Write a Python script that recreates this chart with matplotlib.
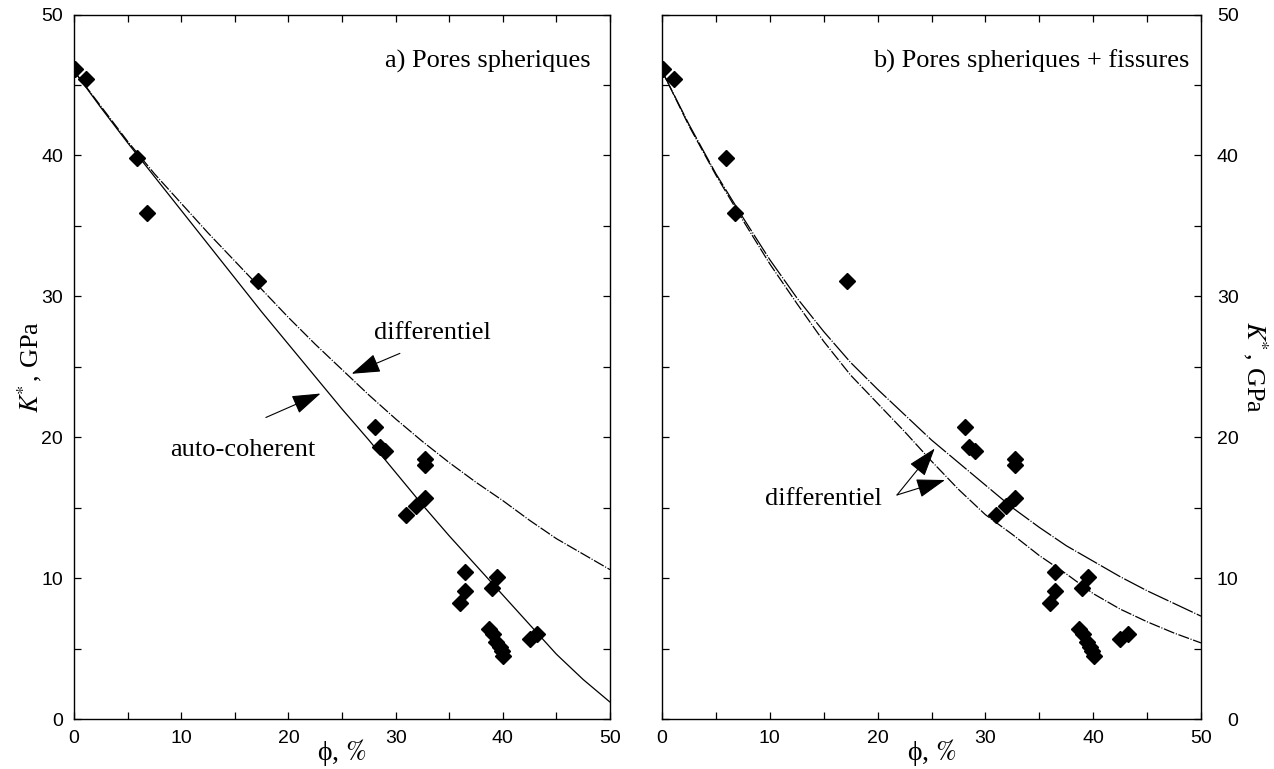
"""
Module de compressibilite K* en fonction de la porosite phi.

2 panneaux:
  gauche: pores spheriques (auto-coherent / differentiel)
  droite: pores spheriques + fissures (differentiel)
"""

import numpy as np
import matplotlib
matplotlib.use('Agg')
import matplotlib.pyplot as plt
from matplotlib.ticker import MultipleLocator

# --- donnees experimentales (phi en %, K* en GPa) ---
phi_exp = [0.1, 1.1, 5.9, 6.8, 17.2, 28.1, 28.5, 29.0, 32.7, 32.7,
           31.0, 31.9, 32.7, 36.5, 36.5, 36.0, 39.5, 39.0,
           38.7, 39.05, 39.4, 39.7, 39.9, 40.05, 42.5, 43.2]
K_exp = [46.1, 45.4, 39.8, 35.9, 31.1, 20.7, 19.3, 19.0, 18.45, 18.0,
         14.5, 15.1, 15.7, 10.45, 9.1, 8.2, 10.1, 9.3,
         6.4, 6.0, 5.5, 5.1, 4.8, 4.5, 5.7, 6.0]

# --- courbes modeles ---
phi_model = [0, 2.5, 5, 7.5, 10, 12.5, 15, 17.5, 20, 22.5, 25,
             27.5, 30, 32.5, 35, 37.5, 40, 42.5, 45, 47.5, 50]
K_autocoherent = [46.0, 43.4, 40.9, 38.5, 36.1, 33.7, 31.3, 28.9, 26.6, 24.3, 22.0,
                  19.8, 17.5, 15.2, 13.0, 10.9, 8.8, 6.7, 4.6, 2.8, 1.2]
K_diff_spheres = [46.0, 43.5, 41.0, 38.7, 36.6, 34.5, 32.5, 30.5, 28.5, 26.6, 24.8,
                  23.0, 21.3, 19.7, 18.2, 16.8, 15.5, 14.1, 12.8, 11.7, 10.6]
K_diff_fiss_haut = [46.0, 42.2, 38.7, 35.6, 32.6, 29.9, 27.5, 25.3, 23.4, 21.6, 19.8,
                    18.2, 16.6, 15.0, 13.6, 12.3, 11.2, 10.1, 9.1, 8.2, 7.3]
K_diff_fiss_bas = [46.0, 42.1, 38.6, 35.4, 32.3, 29.5, 26.8, 24.4, 22.4, 20.4, 18.3,
                   16.3, 14.5, 13.1, 11.6, 10.3, 8.9, 7.8, 6.9, 6.1, 5.4]

SERIF = ['Liberation Serif', 'DejaVu Serif']
SANS = ['Liberation Sans', 'DejaVu Sans']
TXT_SIZE = 19
DASHDOT = (9, 1.3, 0.9, 1.3)

plt.rcParams['font.family'] = SANS
plt.rcParams['mathtext.fontset'] = 'stix'

XLABEL = '\u03d5, $\\mathit{\\%}$'
YLABEL = r'$K^{\!\!*}$, GPa'


def _style_axes(ax, side):
    """cadre, graduations vers l'interieur tous les 5."""
    ax.set_xlim(0, 50)
    ax.set_ylim(0, 50)
    for ax_ in (ax.xaxis, ax.yaxis):
        ax_.set_major_locator(MultipleLocator(10))
        ax_.set_minor_locator(MultipleLocator(5))
    ax.tick_params(which='both', direction='in', top=True, right=True,
                   left=True, bottom=True, length=5, width=0.9, labelsize=14)
    ax.tick_params(axis='x', pad=8)
    for sp in ax.spines.values():
        sp.set_linewidth(1.0)

    ax.set_xlabel(XLABEL, family=SERIF, fontsize=TXT_SIZE + 1, va='center')
    ax.xaxis.set_label_coords(0.5, -0.048)
    if side == 'left':
        ax.tick_params(axis='y', labelleft=True, labelright=False, pad=8)
        ax.set_ylabel(YLABEL, family=SERIF, fontsize=TXT_SIZE,
                      rotation=90, va='center')
        ax.yaxis.set_label_coords(-0.082, 0.5)
    else:
        ax.tick_params(axis='y', labelleft=False, labelright=True, pad=27)
        for lab in ax.get_yticklabels():
            lab.set_horizontalalignment('right')
        ax.yaxis.set_label_position('right')
        ax.set_ylabel(YLABEL, family=SERIF, fontsize=TXT_SIZE,
                      rotation=270, va='center')
        ax.yaxis.set_label_coords(1.10, 0.5)


def _arrow(ax, tail, tip):
    ax.annotate('', xy=tip, xytext=tail,
                arrowprops=dict(arrowstyle='-|>,head_length=0.9,head_width=0.3',
                                color='black', lw=0.8, shrinkA=0, shrinkB=0,
                                mutation_scale=20))


def _points(ax):
    ax.plot(phi_exp, K_exp, ls='none', marker='D', ms=8,
            color='black', zorder=5)


fig = plt.figure(figsize=(12.74, 7.69), dpi=100)
ax_a = fig.add_axes([74 / 1274, 50 / 769, 536 / 1274, 704.5 / 769])
ax_b = fig.add_axes([662 / 1274, 50 / 769, 539 / 1274, 704.5 / 769])

# --- a) pores spheriques ---
ax_a.plot(phi_model, K_autocoherent, color='black', lw=0.9)
ax_a.plot(phi_model, K_diff_spheres, color='black', lw=0.9, dashes=DASHDOT)
_points(ax_a)
ax_a.text(48.2, 46.7, 'a) Pores spheriques', ha='right', va='center',
          family=SERIF, fontsize=TXT_SIZE)
ax_a.text(33.4, 27.4, 'differentiel', ha='center', va='center',
          family=SERIF, fontsize=TXT_SIZE)
_arrow(ax_a, (30.4, 25.95), (25.9, 24.5))
ax_a.text(15.7, 19.1, 'auto-coherent', ha='center', va='center',
          family=SERIF, fontsize=TXT_SIZE)
_arrow(ax_a, (17.9, 21.4), (23.0, 23.1))
_style_axes(ax_a, 'left')

# --- b) pores spheriques + fissures ---
ax_b.plot(phi_model, K_diff_fiss_haut, color='black', lw=0.9, dashes=(18, 1.3, 0.9, 1.3))
ax_b.plot(phi_model, K_diff_fiss_bas, color='black', lw=0.9, dashes=DASHDOT)
_points(ax_b)
ax_b.text(48.9, 46.7, 'b) Pores spheriques + fissures', ha='right', va='center',
          family=SERIF, fontsize=TXT_SIZE)
ax_b.text(15.0, 15.6, 'differentiel', ha='center', va='center',
          family=SERIF, fontsize=TXT_SIZE)
_arrow(ax_b, (21.8, 15.9), (25.3, 19.2))
_arrow(ax_b, (21.8, 15.9), (26.25, 16.96))
_style_axes(ax_b, 'right')

fig.savefig('out.png', dpi=100)
plt.close(fig)
